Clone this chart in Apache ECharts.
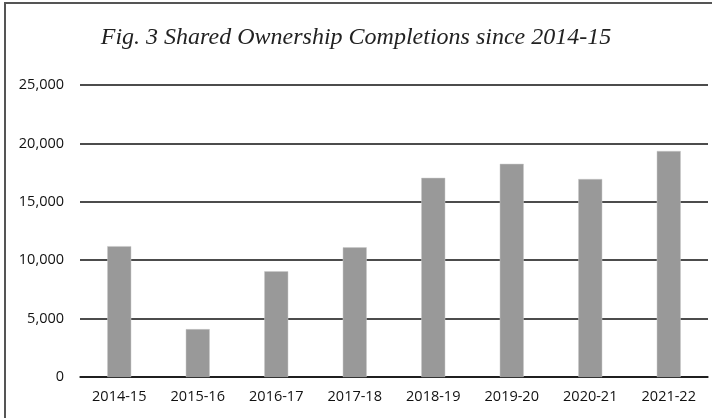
<!DOCTYPE html>
<html lang="en">
<head>
    <meta charset="UTF-8">
    <title>Shared Ownership Completions</title>
    <script src="https://cdn.jsdelivr.net/npm/echarts@6/dist/echarts.min.js"></script>
    <style>
        html, body {
            margin: 0;
            padding: 0;
            background: #fff;
        }
        #frame {
            position: absolute;
            left: 4px;
            top: 2px;
            width: 708px;
            height: 416px;
            border-left: 2px solid #555;
            border-top: 2px solid #555;
        }
        #container {
            position: absolute;
            left: 0;
            top: 0;
            width: 712px;
            height: 418px;
        }
    </style>
</head>
<body>
    <div id="frame"></div>
    <div id="container"></div>
    <script type="text/javascript">
        var years = ['2014-15', '2015-16', '2016-17', '2017-18', '2018-19', '2019-20', '2020-21', '2021-22'];
        var completions = [11200, 4100, 9050, 11100, 17050, 18250, 16950, 19350];
        var yTicks = [0, 5000, 10000, 15000, 20000, 25000];

        var myChart = echarts.init(document.getElementById('container'));
        var option = {
            animation: false,
            title: {
                text: 'Fig. 3 Shared Ownership Completions since 2014-15',
                left: 'center',
                top: 21,
                textStyle: {
                    fontFamily: 'Liberation Serif',
                    fontStyle: 'italic',
                    fontWeight: 'normal',
                    fontSize: 24,
                    color: '#222'
                }
            },
            grid: {
                left: 80,
                right: 4,
                top: 85,
                bottom: 41
            },
            xAxis: {
                type: 'category',
                data: years,
                axisTick: { show: false },
                axisLine: { lineStyle: { color: '#111', width: 1.5 } },
                axisLabel: {
                    margin: 12,
                    fontFamily: 'Open Sans',
                    fontSize: 14.5,
                    color: '#111'
                }
            },
            yAxis: {
                type: 'value',
                min: yTicks[0],
                max: yTicks[yTicks.length - 1],
                interval: yTicks[1] - yTicks[0],
                axisLine: { show: false },
                axisTick: { show: false },
                splitLine: { lineStyle: { color: '#111', width: 1.5 } },
                axisLabel: {
                    margin: 16,
                    fontFamily: 'Open Sans',
                    fontSize: 14.5,
                    color: '#111',
                    formatter: function (v) {
                        return v.toLocaleString('en-US');
                    }
                }
            },
            series: [
                {
                    type: 'bar',
                    data: completions,
                    barWidth: 24,
                    itemStyle: {
                        color: '#999999',
                        borderColor: '#c8c8c8',
                        borderWidth: 0.5
                    }
                }
            ]
        };
        myChart.setOption(option);
    </script>
</body>
</html>
